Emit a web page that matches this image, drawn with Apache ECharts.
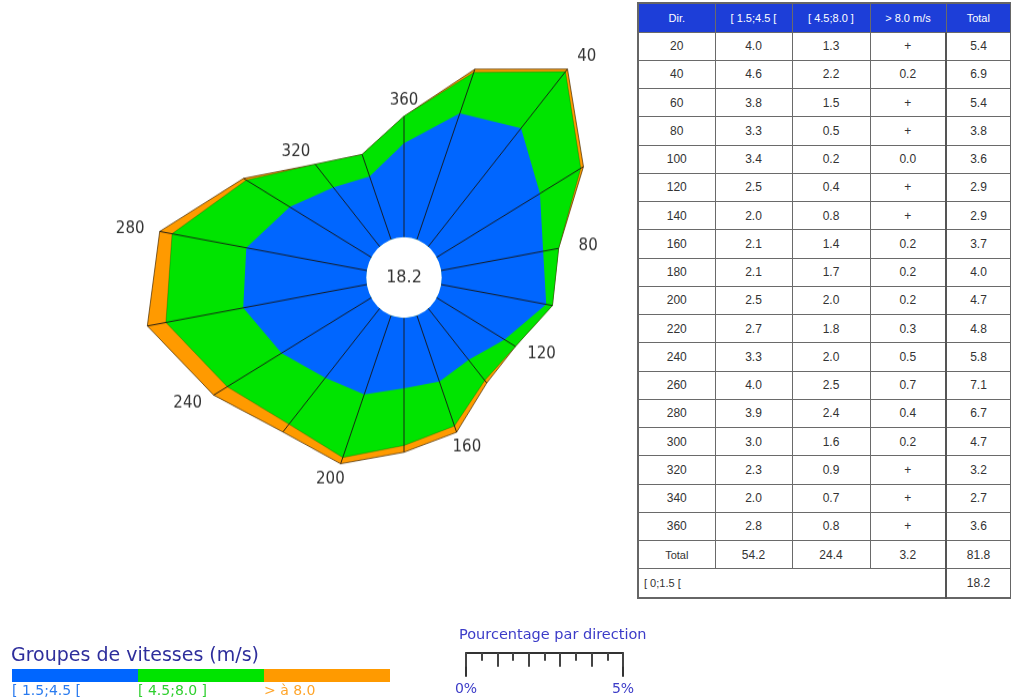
<!DOCTYPE html>
<html>
<head>
<meta charset="utf-8">
<title>Rose des vents</title>
<script src="https://cdn.jsdelivr.net/npm/echarts@6/dist/echarts.min.js"></script>
<style>
  html, body { margin: 0; padding: 0; background: #fff; width: 1011px; height: 699px; overflow: hidden; }
  #rose { position: absolute; left: 0; top: 0; width: 636px; height: 600px;
          transform-origin: 404px 277.5px; transform: scaleY(1.07); }
  #keys { position: absolute; left: 0; top: 600px; width: 1011px; height: 99px; }
  #tbl { position: absolute; left: 637px; top: 2px; width: 373px; table-layout: fixed;
         border-collapse: collapse; font-family: 'Liberation Sans', Arial, sans-serif;
         font-size: 12px; color: #333; border: 2px solid #666; }
  #tbl td, #tbl th { border: 1.5px solid #6a6a6a; text-align: center; padding: 0; height: 27.25px; }
  #tbl th { background: #1d3ed8; color: #fff; font-weight: normal; font-size: 11px; height: 27.5px; }
  #tbl td.calm { text-align: left; padding-left: 5px; font-size: 11px; }
  #tbl td.lbl { font-size: 11px; }
  #tbl td.tot { border-left: 2px solid #555; }
</style>
</head>
<body>
<div id="rose"></div>
<div id="keys"></div>
<table id="tbl"></table>
<script>
// Frequency (%) of wind per direction sector and speed class
const directions = [20, 40, 60, 80, 100, 120, 140, 160, 180, 200, 220, 240, 260, 280, 300, 320, 340, 360];
const speedLow  = [4.0, 4.6, 3.8, 3.3, 3.4, 2.5, 2.0, 2.1, 2.1, 2.5, 2.7, 3.3, 4.0, 3.9, 3.0, 2.3, 2.0, 2.8];
const speedMid  = [1.3, 2.2, 1.5, 0.5, 0.2, 0.4, 0.8, 1.4, 1.7, 2.0, 1.8, 2.0, 2.5, 2.4, 1.6, 0.9, 0.7, 0.8];
const speedHigh = ['+', 0.2, '+', '+', 0.0, '+', '+', 0.2, 0.2, 0.2, 0.3, 0.5, 0.7, 0.4, 0.2, '+', '+', '+'];
const totals    = [5.4, 6.9, 5.4, 3.8, 3.6, 2.9, 2.9, 3.7, 4.0, 4.7, 4.8, 5.8, 7.1, 6.7, 4.7, 3.2, 2.7, 3.6];
const classTotals = [54.2, 24.4, 3.2, 81.8];
const calmValue = 18.2;
const calmLabel = '[ 0;1.5 [';
const headerLabels = ['Dir.', '[ 1.5;4.5 [', '[ 4.5;8.0 ]', '> 8.0 m/s', 'Total'];
const classNames = ['[ 1.5;4.5 [', '[ 4.5;8.0 ]', '> à 8.0'];
const scaleTitle = 'Pourcentage par direction';
const legendTitle = 'Groupes de vitesses (m/s)';
const scaleMax = 5;

const COLORS = ['#0066ff', '#00e400', '#ff9a00'];
const LABEL_COLORS = ['#2a7bef', '#2fcf2f', '#ffa52a'];
const PX_PER_PCT = 31.4;     // radial scale, shared by the rose and the ruler
const R_MIN = -1.2;          // leaves the calm hole in the middle
const R_MAX = 8;

// Cumulative rings: low, low+mid, total
const ringLow = speedLow.slice();
const ringMid = speedLow.map((v, i) => Math.round((v + speedMid[i]) * 10) / 10);
const ringTotal = totals.slice();

function closedRing(vals) {
  const last = vals.length - 1;
  return [[vals[last], 0]].concat(directions.map((d, i) => [vals[i], d]));
}

const rose = echarts.init(document.getElementById('rose'), null, { renderer: 'canvas' });
rose.setOption({
  animation: false,
  polar: { center: [404, 277.5], radius: (R_MAX - R_MIN) * PX_PER_PCT },
  angleAxis: { type: 'value', min: 0, max: 360, startAngle: 90, clockwise: true, show: false },
  radiusAxis: { type: 'value', min: R_MIN, max: R_MAX, show: false },
  series: [
    {
      name: '> 8.0', type: 'line', coordinateSystem: 'polar', data: closedRing(ringTotal),
      symbol: 'none', silent: true, z: 2,
      lineStyle: { color: 'rgba(80,50,0,0.75)', width: 1 },
      areaStyle: { color: COLORS[2], opacity: 1 }
    },
    {
      name: '[4.5;8.0]', type: 'line', coordinateSystem: 'polar', data: closedRing(ringMid),
      symbol: 'none', silent: true, z: 3,
      lineStyle: { color: 'rgba(0,70,0,0.45)', width: 0.7 },
      areaStyle: { color: COLORS[1], opacity: 1 }
    },
    {
      name: '[1.5;4.5[', type: 'line', coordinateSystem: 'polar', data: closedRing(ringLow),
      symbol: 'none', silent: true, z: 4,
      lineStyle: { width: 0, opacity: 0 },
      areaStyle: { color: COLORS[0], opacity: 1 }
    },
    {
      // calm hole with its percentage
      type: 'custom', coordinateSystem: 'polar', silent: true, z: 5,
      data: [[R_MIN, 0]],
      renderItem: function (params, api) {
        const c = api.coord([R_MIN, 0]);
        const e = api.coord([0, 90]);
        const r = Math.abs(e[0] - c[0]);
        return {
          type: 'group',
          children: [
            { type: 'circle', shape: { cx: c[0], cy: c[1], r: r }, style: { fill: '#fff' } },
            { type: 'text', x: c[0], y: c[1],
              style: { text: calmValue.toFixed(1), fill: '#333', font: '16px "DejaVu Sans"',
                       align: 'center', verticalAlign: 'middle' } }
          ]
        };
      }
    },
    {
      // spokes and direction labels
      type: 'custom', coordinateSystem: 'polar', silent: true, z: 6,
      data: directions.map((d, i) => [ringTotal[i], d]),
      renderItem: function (params, api) {
        const r = api.value(0), a = api.value(1);
        const p0 = api.coord([0, a]);
        const p1 = api.coord([r, a]);
        const children = [{
          type: 'line',
          shape: { x1: p0[0], y1: p0[1], x2: p1[0], y2: p1[1] },
          style: { stroke: '#161616', lineWidth: 1, opacity: 0.9 }
        }];
        if (a % 40 === 0) {
          const th = a * Math.PI / 180;
          children.push({
            type: 'text',
            x: p1[0] + 30 * Math.sin(th),
            y: p1[1] - 15 * Math.cos(th),
            style: { text: String(a), fill: '#333', font: '15px "DejaVu Sans"',
                     align: 'center', verticalAlign: 'middle' }
          });
        }
        return { type: 'group', children: children };
      }
    }
  ]
});

// Legend of speed classes and the percentage ruler
const keys = echarts.init(document.getElementById('keys'), null, { renderer: 'canvas' });
const barW = 126;
const legendGraphics = [
  { type: 'text', left: 11, top: 47,
    style: { text: legendTitle, fill: '#2e2e9c', font: '19px "DejaVu Sans"' } },
  { type: 'text', left: 459, top: 28,
    style: { text: scaleTitle, fill: '#3c3cc8', font: '14.5px "DejaVu Sans"' } }
];
classNames.forEach((name, i) => {
  legendGraphics.push({ type: 'rect', left: 12 + i * barW, top: 69,
    shape: { width: barW, height: 13 }, style: { fill: COLORS[i] } });
  legendGraphics.push({ type: 'text', left: 12 + i * barW, top: 84,
    style: { text: name, fill: LABEL_COLORS[i], font: '14px "DejaVu Sans"' } });
});

const rulerAxisBase = { type: 'value', min: 0, max: scaleMax, position: 'bottom', splitLine: { show: false } };
keys.setOption({
  animation: false,
  graphic: legendGraphics,
  grid: { left: 466, top: 32, width: scaleMax * PX_PER_PCT, height: 20.7 },
  yAxis: { type: 'value', show: false },
  xAxis: [
    Object.assign({}, rulerAxisBase, {
      interval: scaleMax,
      axisLine: { show: true, lineStyle: { color: '#333', width: 2 } },
      axisTick: { show: true, length: 24, lineStyle: { color: '#333', width: 2 } },
      axisLabel: { show: true, margin: 30, color: '#3c3cc8', fontSize: 14,
                   fontFamily: 'DejaVu Sans', formatter: v => v + '%' }
    }),
    Object.assign({}, rulerAxisBase, {
      interval: 1,
      axisLine: { show: false },
      axisTick: { show: true, length: 14, lineStyle: { color: '#444', width: 2 } },
      minorTick: { show: true, splitNumber: 2, length: 8, lineStyle: { color: '#444', width: 2 } },
      axisLabel: { show: false }
    })
  ],
  series: []
});

// Table of frequencies
const tbl = document.getElementById('tbl');
const fmt = v => (typeof v === 'number' ? v.toFixed(1) : v);
let html = '<colgroup><col style="width:77px"><col style="width:77px"><col style="width:78px"><col style="width:76px"><col style="width:65px"></colgroup>';
html += '<tr>' + headerLabels.map(h => '<th>' + h + '</th>').join('') + '</tr>';
directions.forEach((d, i) => {
  html += '<tr><td>' + d + '</td><td>' + fmt(speedLow[i]) + '</td><td>' + fmt(speedMid[i]) +
          '</td><td>' + fmt(speedHigh[i]) + '</td><td class="tot">' + fmt(totals[i]) + '</td></tr>';
});
html += '<tr><td class="lbl">Total</td>' + classTotals.map((v, j) =>
  '<td' + (j === 3 ? ' class="tot"' : '') + '>' + fmt(v) + '</td>').join('') + '</tr>';
html += '<tr><td class="calm" colspan="4">' + calmLabel + '</td><td class="tot">' + fmt(calmValue) + '</td></tr>';
tbl.innerHTML = html;
</script>
</body>
</html>
